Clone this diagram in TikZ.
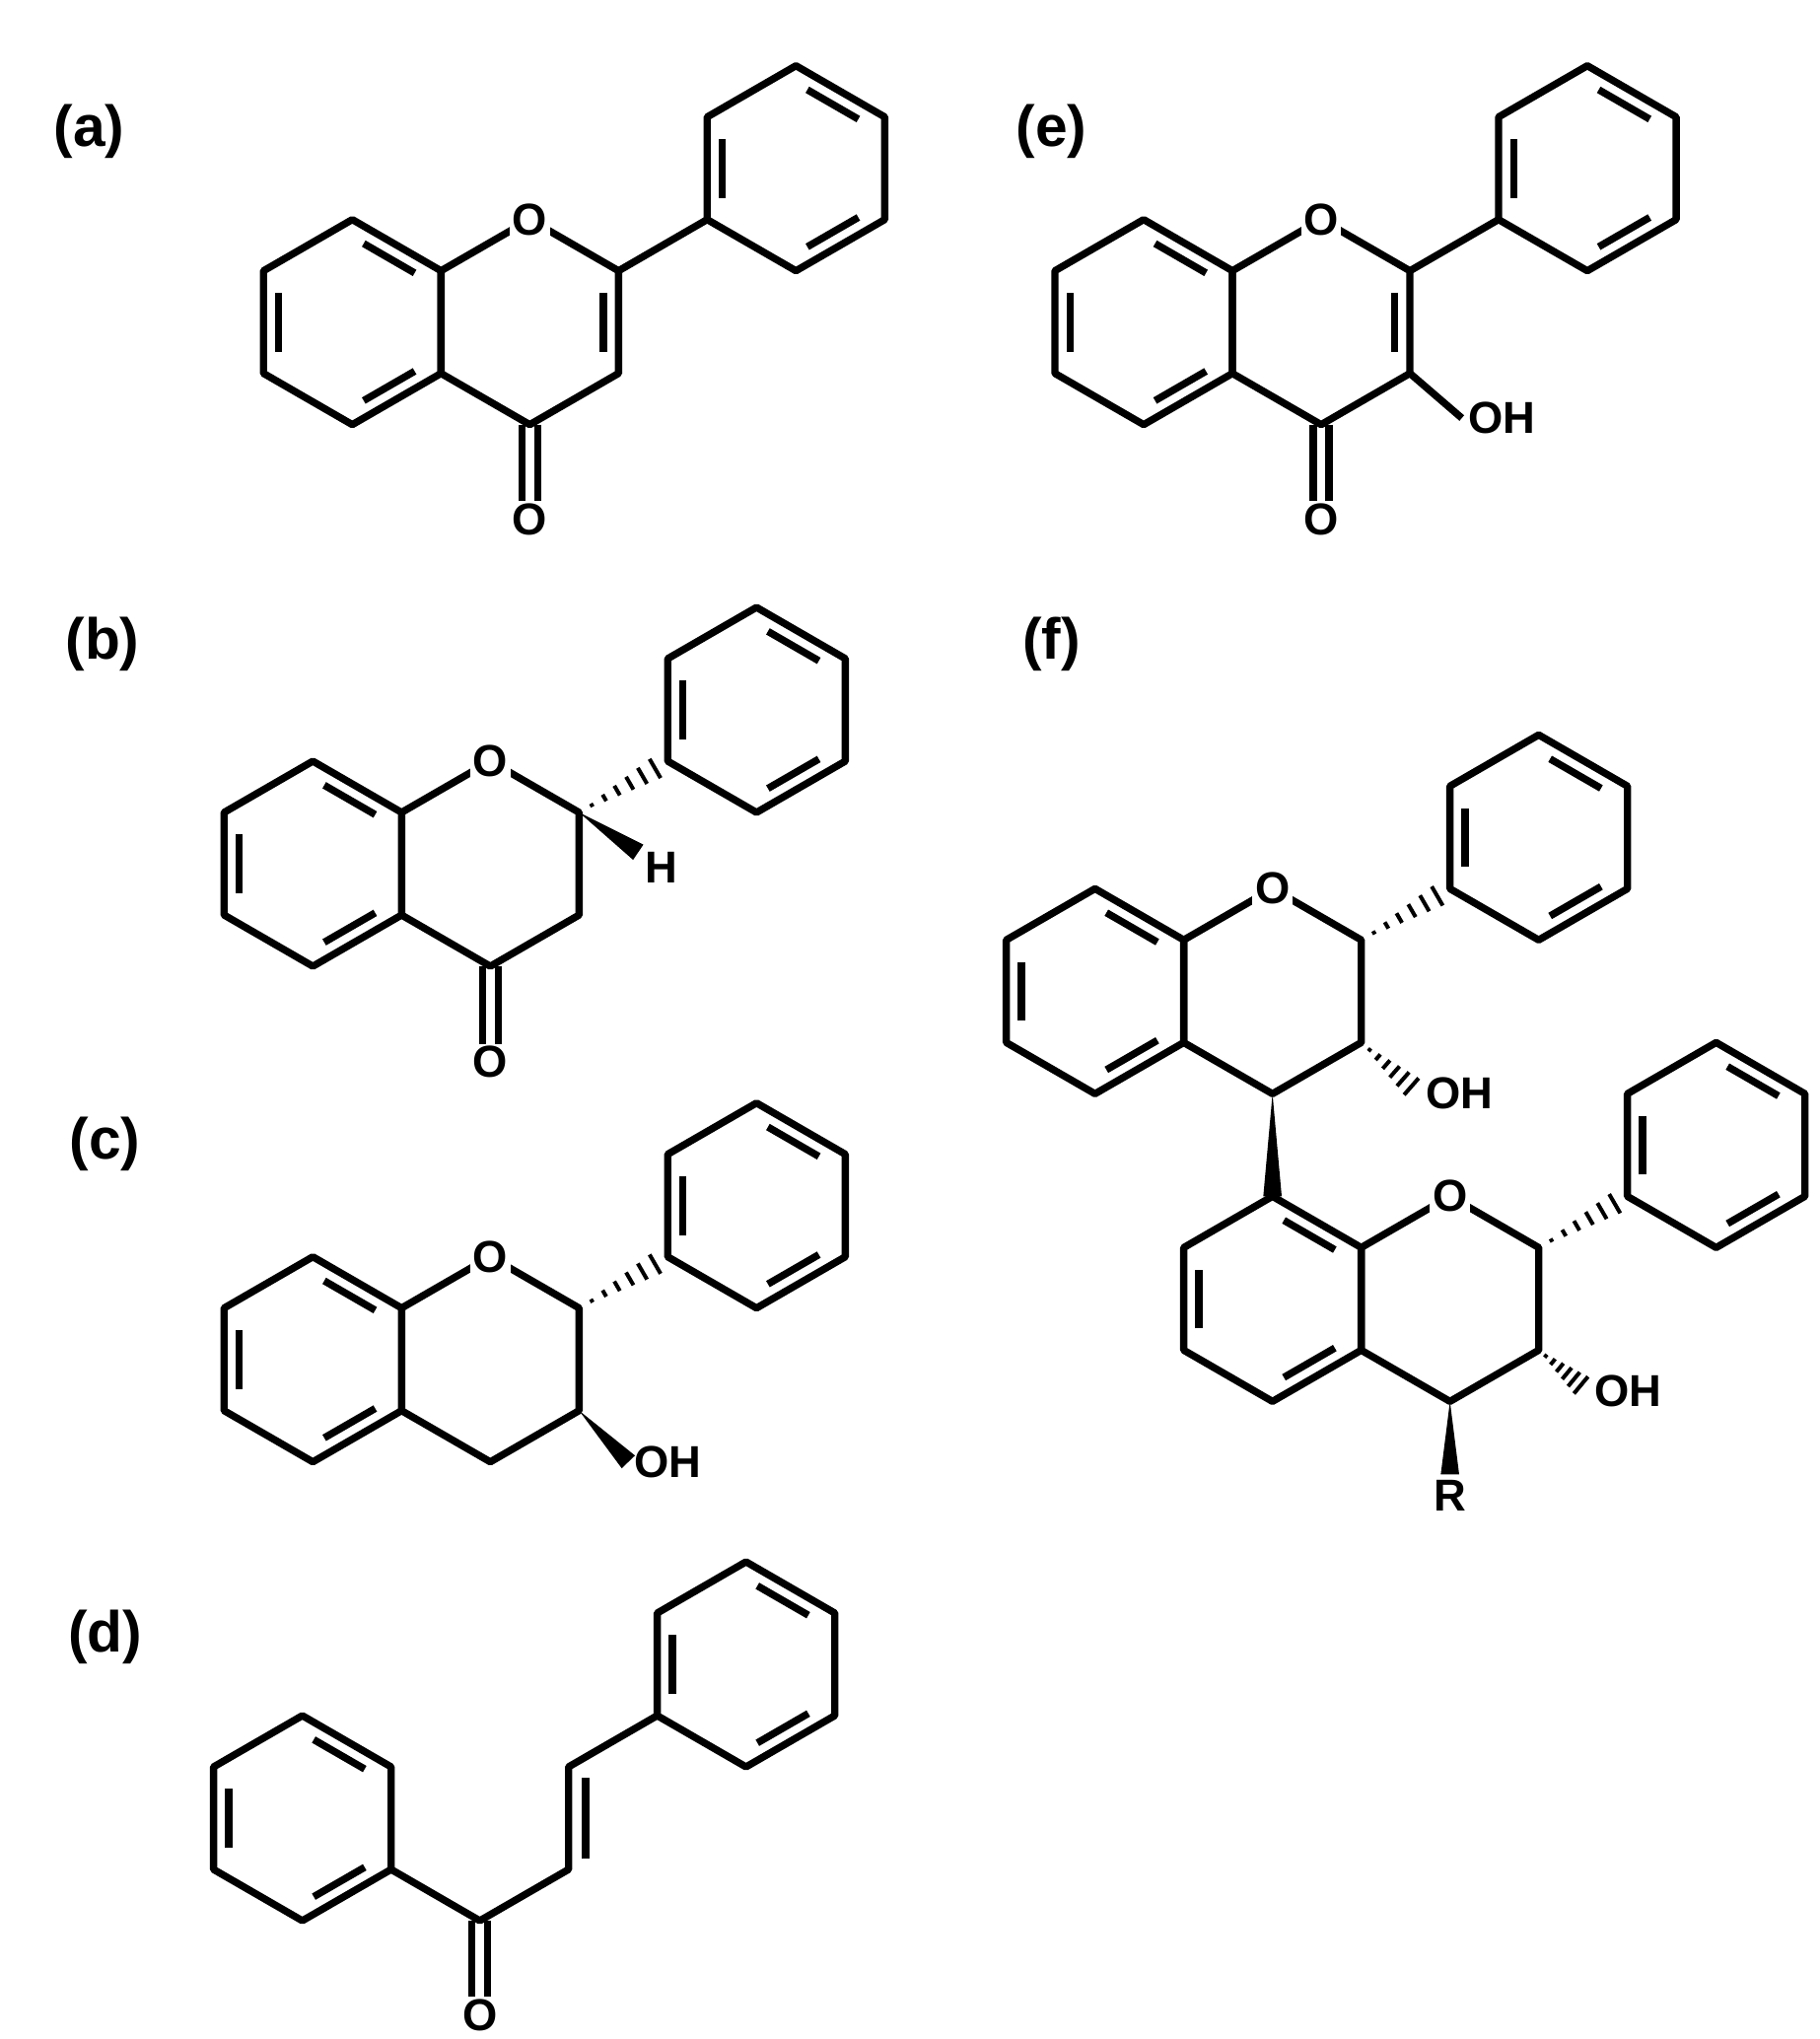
\documentclass[tikz,border=0pt]{standalone}
\usepackage{fontspec}
\setmainfont{Liberation Sans}
\usetikzlibrary{calc}
\newcommand\hexr[3]{%
 \coordinate (#1c) at (#2,#3);
 \coordinate (#11) at (#2,#3-78);
 \coordinate (#12) at (#2+67.55,#3-39);
 \coordinate (#13) at (#2+67.55,#3+39);
 \coordinate (#14) at (#2,#3+78);
 \coordinate (#15) at (#2-67.55,#3+39);
 \coordinate (#16) at (#2-67.55,#3-39);}
\newcommand\ring[1]{\draw (#11)--(#12)--(#13)--(#14)--(#15)--(#16)--cycle;}
\newcommand\inl[3]{\draw[shorten <=10pt,shorten >=10pt] ($(#1)!0.17!(#3)$) -- ($(#2)!0.17!(#3)$);}
\newcommand\dbo[2]{\draw ($(#1)!6pt!90:(#2)$) -- ($(#2)!6pt!-90:(#1)$); \draw ($(#1)!6pt!-90:(#2)$) -- ($(#2)!6pt!90:(#1)$);}
\newcommand\hashw[2]{\foreach \i [evaluate=\i as \w using 1.4*\i] in {1,...,6}{\draw[line width=3pt] ($($(#1)!\i/7!(#2)$)!\w pt!90:(#2)$) -- ($($(#1)!\i/7!(#2)$)!\w pt!-90:(#2)$);}}
\newcommand\boldw[2]{\fill (#1) -- ($(#2)!7pt!90:(#1)$) -- ($(#2)!7pt!-90:(#1)$) -- cycle;}
\newcommand\phen[1]{\ring{#1}\inl{#11}{#12}{#1c}\inl{#13}{#14}{#1c}\inl{#15}{#16}{#1c}}
\tikzset{atom/.style={fill=white,inner sep=2pt,font=\bfseries\fontsize{34}{34}\selectfont},
 lab/.style={font=\bfseries\fontsize{44}{44}\selectfont}}
\begin{document}
\begin{tikzpicture}[x=1pt,y=-1pt,line width=5.5pt,line join=round]
\useasboundingbox[fill=white] (0,0) rectangle (1384,1551);
% (a)
\node[lab] (la) at (68,100) {(a)};
\hexr{aA}{268}{245}\hexr{aB}{403}{245}\hexr{aP}{605.5}{128}
\ring{aA}\ring{aB}\phen{aP}
\inl{aA5}{aA6}{aAc}\inl{aA1}{aA2}{aAc}\inl{aA3}{aA4}{aAc}\inl{aB2}{aB3}{aBc}
\coordinate (aO2) at (403,401);
\dbo{aB4}{aO2}
\draw (aB2)--(aP5);
\node[atom] (aO) at (aB1) {O};
\node[atom] (aOx) at (403,395) {O};
% (b)
\node[lab] (lb) at (78,490) {(b)};
\hexr{bA}{238}{657}\hexr{bB}{373}{657}\hexr{bP}{575.5}{540}
\ring{bA}
\draw (bB5)--(bB4)--(bB3)--(bB2)--(bB1)--(bB6);
\inl{bA5}{bA6}{bAc}\inl{bA1}{bA2}{bAc}\inl{bA3}{bA4}{bAc}
\phen{bP}
\coordinate (bO2) at (373,813);
\dbo{bB4}{bO2}
\hashw{bB2}{bP5}
\node[atom] (bH) at (503,660) {H};
\boldw{bB2}{$(bB2)!0.72!(bH)$}
\node[atom] (bO) at (bB1) {O};
\node[atom] (bOx) at (373,808) {O};
% (c)
\node[lab] (lc) at (80,870) {(c)};
\hexr{cA}{238}{1034}\hexr{cB}{373}{1034}\hexr{cP}{575.5}{917}
\ring{cA}\draw (cB5)--(cB4)--(cB3)--(cB2)--(cB1)--(cB6);
\inl{cA5}{cA6}{cAc}\inl{cA1}{cA2}{cAc}\inl{cA3}{cA4}{cAc}
\phen{cP}
\hashw{cB2}{cP5}
\node[atom,anchor=west] (cOH) at (478,1112) {OH};
\boldw{cB3}{cOH.west}
\node[atom] (cO) at (cB1) {O};
% (d)
\node[lab] (ld) at (80,1245) {(d)};
\hexr{dA}{230}{1383}\hexr{dP}{567.5}{1266}
\phen{dA}\phen{dP}
\coordinate (dC) at (365,1461);
\coordinate (dCa) at (432.5,1422);
\coordinate (dCb) at (432.5,1344);
\coordinate (dO2) at (365,1539);
\draw (dA3)--(dC)--(dCa)--(dCb)--(dP5);
\draw[shorten <=8pt,shorten >=8pt] ($(dCa)+(13,0)$) -- ($(dCb)+(13,0)$);
\dbo{dC}{dO2}
\node[atom] (dO) at (365,1533) {O};
% (e)
\node[lab] (le) at (800,100) {(e)};
\hexr{eA}{870}{245}\hexr{eB}{1005}{245}\hexr{eP}{1207.5}{128}
\ring{eA}\ring{eB}\phen{eP}
\inl{eA5}{eA6}{eAc}\inl{eA1}{eA2}{eAc}\inl{eA3}{eA4}{eAc}\inl{eB2}{eB3}{eBc}
\coordinate (eO2) at (1005,401);
\dbo{eB4}{eO2}
\draw (eB2)--(eP5);
\node[atom,anchor=west] (eOH) at (1112,318) {OH};
\draw (eB3)--(eOH.west);
\node[atom] (eO) at (eB1) {O};
\node[atom] (eOx) at (1005,395) {O};
% (f)
\node[lab] (lf) at (800,490) {(f)};
\hexr{fA}{833}{754}\hexr{fB}{968}{754}\hexr{fP}{1170.5}{637}
\hexr{gA}{968}{988}\hexr{gB}{1103}{988}\hexr{gP}{1305.5}{871}
\ring{fA}\ring{fB}\phen{fP}
\ring{gA}\ring{gB}\phen{gP}
\inl{fA5}{fA6}{fAc}\inl{fA1}{fA2}{fAc}\inl{fA3}{fA4}{fAc}
\inl{gA5}{gA6}{gAc}\inl{gA1}{gA2}{gAc}\inl{gA3}{gA4}{gAc}
\hashw{fB2}{fP5}
\hashw{gB2}{gP5}
\node[atom,anchor=west] (fOH) at (1080,832) {OH};
\hashw{fB3}{fOH.west}
\node[atom,anchor=west] (gOH) at (1208,1058) {OH};
\hashw{gB3}{gOH.west}
\boldw{fB4}{gA1}
\node[atom] (gR) at (1103,1138) {R};
\boldw{gB4}{gR.north}
\node[atom] (fO) at (fB1) {O};
\node[atom] (gO) at (gB1) {O};
\end{tikzpicture}
\end{document}
